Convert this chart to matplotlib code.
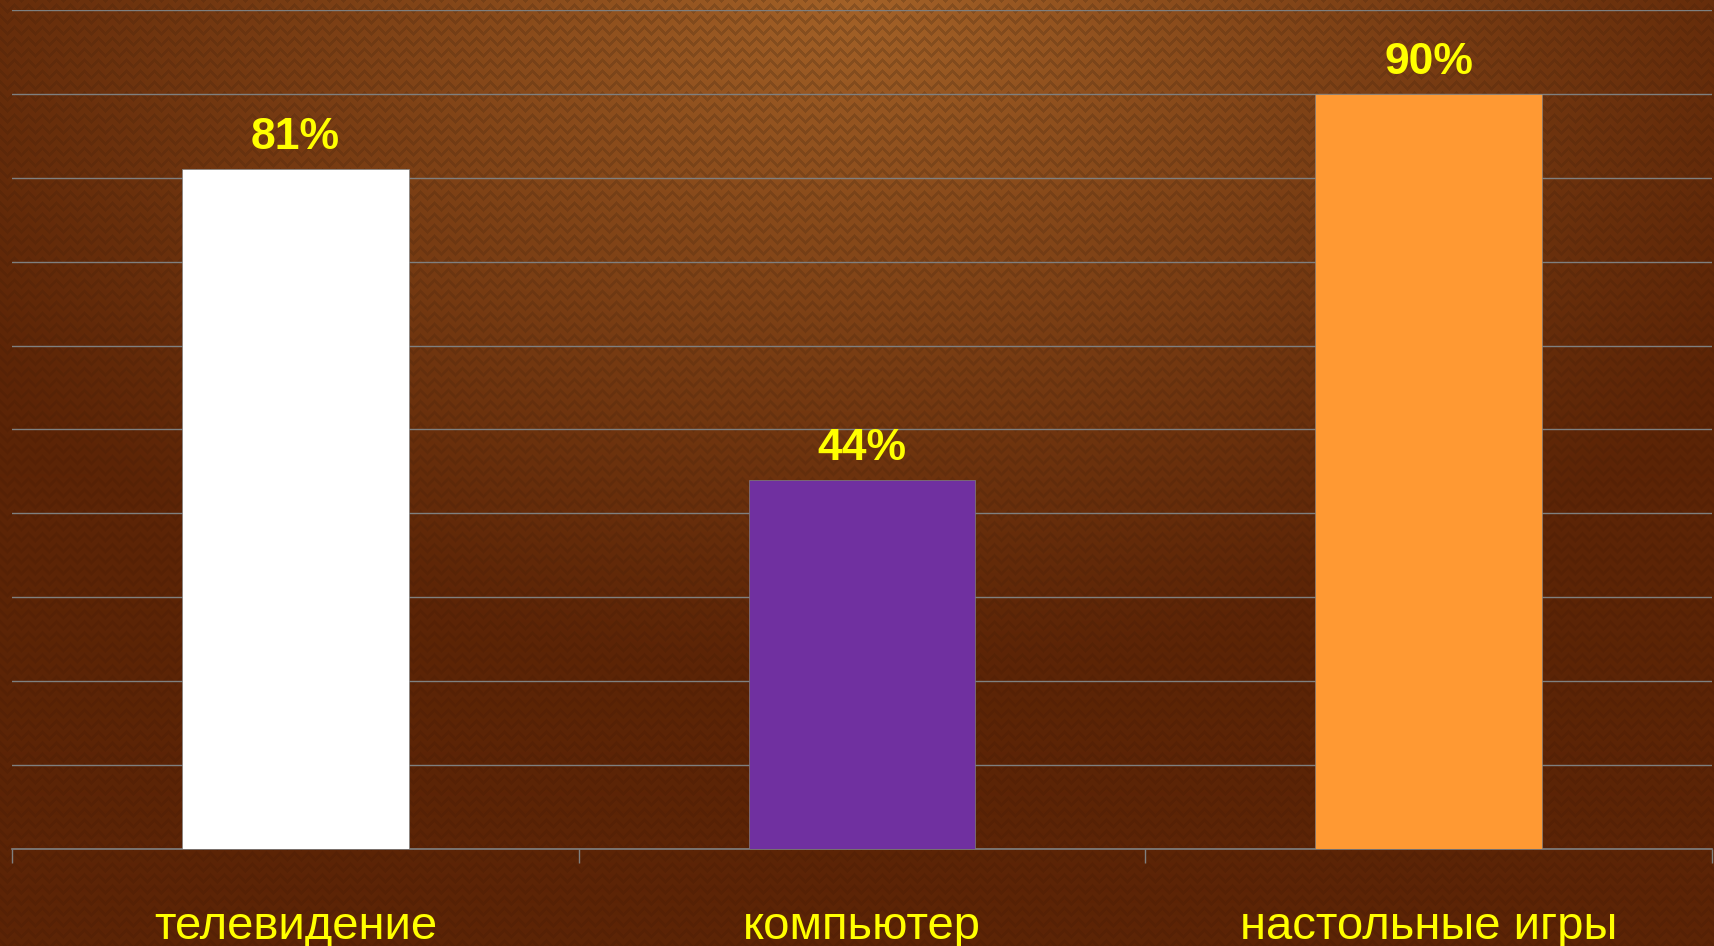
import numpy as np
import matplotlib.pyplot as plt

# data
categories = ['телевидение', 'компьютер', 'настольные игры']
values = [81, 44, 90]
labels = ['81%', '44%', '90%']
bar_colors = ['#FFFFFF', '#7030A0', '#FF9933']

W, H = 1715, 946
fig = plt.figure(figsize=(W / 100, H / 100), dpi=100)

# background: brown gradient with a faint herringbone weave
bg = fig.add_axes([0, 0, 1, 1])
bg.set_axis_off()
yy, xx = np.mgrid[0:H, 0:W]
dx = (xx - W * 0.5) / (W * 0.5)
dy = yy / H
glow = np.clip(1 - np.sqrt((dx * 0.8) ** 2 + (dy * 1.4) ** 2), 0, 1) ** 1.2
dark = np.array([0x5C, 0x24, 0x06]) / 255.0
light = np.array([0xA4, 0x62, 0x28]) / 255.0
img = dark[None, None, :] + glow[..., None] * (light - dark)[None, None, :]
cw = 7
zig = np.abs((xx % (2 * cw)) - cw)
weave = ((yy + zig) % 11) < 4
k = 0.4 + 0.6 * glow
shade = np.where(weave, 0.84, 1.0) * k + (1 - k)
img = img * shade[..., None]
bg.imshow(img, extent=[0, 1, 0, 1], aspect='auto', origin='upper')

ax = fig.add_axes([12 / W, 1 - 849 / H, 1700 / W, 839 / H])
ax.patch.set_alpha(0)
x = np.arange(len(categories))
ax.bar(x, values, width=0.4, color=bar_colors, edgecolor='#7F7F7F', linewidth=0.5, zorder=3)

ax.set_xlim(-0.5, len(categories) - 0.5)
ax.set_ylim(0, 100)
ax.set_yticks(np.arange(0, 101, 10))
ax.yaxis.grid(True, color='#7F7F7F', linewidth=1.0, zorder=0)
ax.tick_params(axis='y', left=False, labelleft=False)

ax.set_xticks(x)
ax.set_xticklabels(categories, fontsize=34, color='#FFFF00', family='Liberation Sans')
ax.tick_params(axis='x', which='major', length=0, pad=40)
ax.set_xticks(np.arange(-0.5, len(categories)), minor=True)
ax.tick_params(axis='x', which='minor', length=10, width=1, color='#7F7F7F')

for s in ['top', 'right', 'left']:
    ax.spines[s].set_visible(False)
ax.spines['bottom'].set_color('#7F7F7F')
ax.spines['bottom'].set_linewidth(1.2)

for xi, v, lab in zip(x, values, labels):
    ax.annotate(lab, (xi, v), xytext=(0, 11), textcoords='offset pixels',
                ha='center', va='bottom', fontsize=32, fontweight='bold',
                color='#FFFF00', family='Liberation Sans')

fig.savefig('out.png', dpi=100)
